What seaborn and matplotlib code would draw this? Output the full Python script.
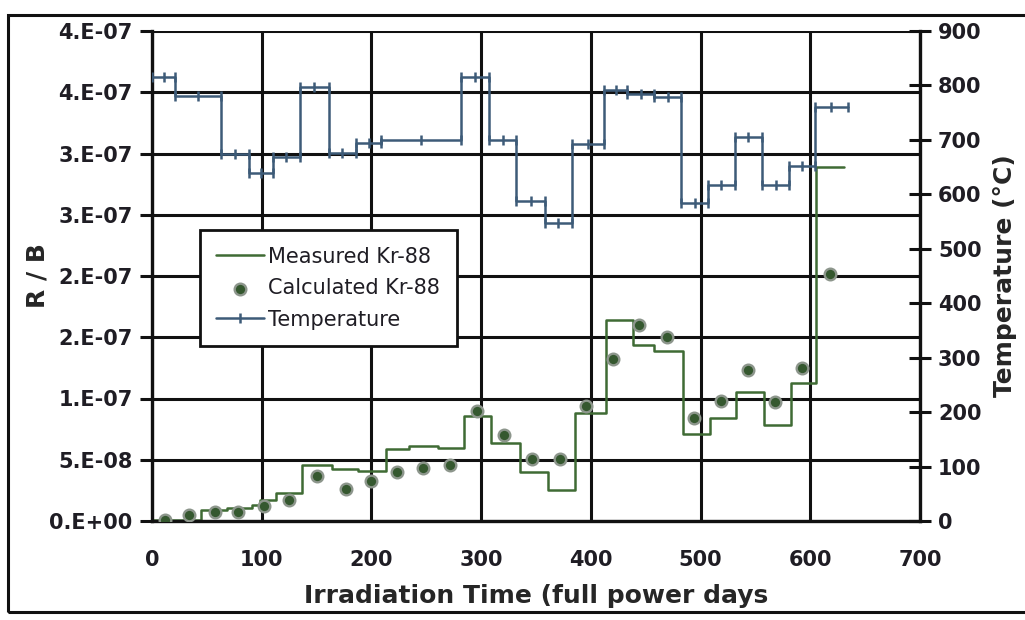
import numpy as np
import pandas as pd
import matplotlib
matplotlib.use("Agg")
import matplotlib.pyplot as plt
import seaborn as sns
from matplotlib.patches import Rectangle
from matplotlib.ticker import FuncFormatter, MultipleLocator

# Measured Kr-88 R/B, step start (days) and level
meas_days = [0, 45, 68, 91, 98, 113, 137, 164, 188, 213, 234, 261, 284, 309, 335,
             361, 386, 414, 438, 458, 484, 509, 532, 558, 582, 605]
meas_end = 631
meas_rb = [0.05e-8, 0.9e-8, 1.1e-8, 1.3e-8, 1.7e-8, 2.3e-8, 4.6e-8, 4.25e-8, 4.1e-8,
           5.9e-8, 6.1e-8, 6.0e-8, 8.6e-8, 6.4e-8, 4.0e-8, 2.5e-8, 8.8e-8, 16.4e-8,
           14.4e-8, 13.9e-8, 7.1e-8, 8.4e-8, 10.5e-8, 7.8e-8, 11.3e-8, 28.9e-8]

# Calculated Kr-88 R/B
calc_days = [12, 34, 57, 78, 102, 125, 150, 177, 200, 223, 247, 272, 296, 321, 346,
             372, 396, 420, 444, 469, 494, 519, 543, 568, 592, 618]
calc_rb = [0.1e-8, 0.45e-8, 0.75e-8, 0.75e-8, 1.2e-8, 1.75e-8, 3.7e-8, 2.6e-8, 3.3e-8,
           4.0e-8, 4.3e-8, 4.6e-8, 9.0e-8, 7.0e-8, 5.1e-8, 5.1e-8, 9.35e-8, 13.2e-8,
           16.0e-8, 15.0e-8, 8.4e-8, 9.8e-8, 12.3e-8, 9.7e-8, 12.5e-8, 20.2e-8]

# Temperature (C), step start (days) and level
temp_days = [0, 21, 63, 88, 110, 135, 161, 186, 209, 282, 307, 332, 358, 383, 412,
             433, 458, 482, 507, 531, 556, 581, 604]
temp_end = 634
temp_c = [815, 780, 675, 640, 668, 797, 676, 695, 700, 815, 700, 587, 548, 692, 791,
          785, 779, 584, 618, 706, 617, 652, 760]

TXT = "#1f1d24"
GREEN = "#3f6b34"
DOT = "#35582f"
BLUE = "#3d5b78"

sns.set_style("white")
plt.rcParams["font.family"] = ["DejaVu Sans"]
plt.rcParams["text.color"] = TXT

meas_df = pd.DataFrame({"day": meas_days + [meas_end], "rb": meas_rb + [meas_rb[-1]]})
calc_df = pd.DataFrame({"day": calc_days, "rb": calc_rb})
temp_df = pd.DataFrame({"day": temp_days + [temp_end], "t": temp_c + [temp_c[-1]]})

# marker points on the temperature steps: start, middle and end of each level
edges = temp_days + [temp_end]
mk_x, mk_y = [], []
for i, t in enumerate(temp_c):
    a, b = edges[i], edges[i + 1]
    mk_x += [a, (a + b) / 2, b]
    mk_y += [t, t, t]

fig = plt.figure(figsize=(10.25, 6.2), dpi=100)
fig.patches.append(Rectangle((8 / 1025, 1 - 612 / 620), 1.05, (612 - 15) / 620,
                             transform=fig.transFigure, fill=False,
                             edgecolor="#111111", linewidth=2.2, zorder=0))

ax = fig.add_axes([152 / 1025, 1 - 521 / 620, 768 / 1025, 490 / 620])
ax2 = ax.twinx()

sns.lineplot(data=meas_df, x="day", y="rb", ax=ax, color=GREEN, lw=1.8,
             drawstyle="steps-post", sort=False, estimator=None, label="Measured Kr-88",
             legend=False)
sns.scatterplot(data=calc_df, x="day", y="rb", ax=ax, color=DOT, s=70,
                edgecolor="#8d968c", linewidth=1.7, label="Calculated Kr-88", legend=False,
                zorder=5)

sns.lineplot(data=temp_df, x="day", y="t", ax=ax2, color=BLUE, lw=1.8,
             drawstyle="steps-post", sort=False, estimator=None, legend=False)
ax2.plot(mk_x, mk_y, ls="none", marker="|", ms=7, mew=1.8, color=BLUE)

ax.set_xlim(0, 700)
ax.set_ylim(0, 4e-7)
ax2.set_ylim(0, 900)
ax.xaxis.set_major_locator(MultipleLocator(100))
ax.yaxis.set_major_locator(MultipleLocator(5e-8))
ax2.yaxis.set_major_locator(MultipleLocator(100))


def excel_sci(v, pos):
    if v <= 0:
        return "0.E+00"
    e = int(np.floor(np.log10(v) + 1e-9))
    m = int(v / 10 ** e + 0.5 + 1e-9)
    if m == 10:
        m, e = 1, e + 1
    return f"{m}.E-{abs(e):02d}"


ax.yaxis.set_major_formatter(FuncFormatter(excel_sci))

ax.grid(True, color="#111111", lw=2.2)
ax.set_axisbelow(True)
for s in ["top", "right"]:
    ax.spines[s].set_visible(False)
for s in ["top", "left", "bottom"]:
    ax2.spines[s].set_visible(False)
ax.spines["left"].set_linewidth(2.4)
ax.spines["bottom"].set_linewidth(2.4)
ax2.spines["right"].set_linewidth(2.4)
for s in ["left", "bottom"]:
    ax.spines[s].set_color("#111111")
ax2.spines["right"].set_color("#111111")

ax.tick_params(axis="y", direction="out", length=9, width=2.2, color="#111111",
               pad=5, labelcolor=TXT, labelsize=15)
ax.tick_params(axis="x", direction="out", length=9, width=2.2, color="#111111",
               pad=12, labelcolor=TXT, labelsize=15)
ax2.tick_params(axis="y", direction="inout", length=16, width=2.2, color="#111111",
                pad=5, labelcolor=TXT, labelsize=15)
for lab in ax.get_xticklabels() + ax.get_yticklabels() + ax2.get_yticklabels():
    lab.set_fontweight("bold")

ax.set_xlabel("Irradiation Time (full power days", fontsize=18, fontweight="bold",
              labelpad=10)
ax.set_ylabel("R / B", fontsize=18, fontweight="bold", labelpad=0)
ax2.set_ylabel("Temperature (°C)", fontsize=18, fontweight="bold", labelpad=8)

h1, l1 = ax.get_legend_handles_labels()
temp_handle = plt.Line2D([], [], color=BLUE, lw=1.8, marker="|", ms=7, mew=1.8)
leg = ax2.legend(h1 + [temp_handle], l1 + ["Temperature"], loc="upper left",
                 bbox_to_anchor=(0.062, 0.594), borderaxespad=0, fontsize=15,
                 frameon=True, fancybox=False, framealpha=1, edgecolor="#111111",
                 handlelength=2.3, handletextpad=0.2, labelspacing=0.55,
                 borderpad=0.8)
leg.get_frame().set_linewidth(2.0)
for t in leg.get_texts():
    t.set_color(TXT)

fig.savefig("out.png", dpi=100)
